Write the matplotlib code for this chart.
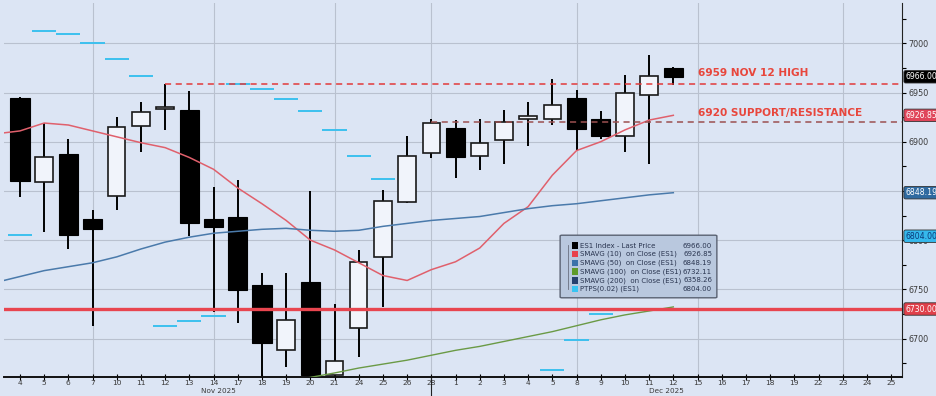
import numpy as np
import matplotlib.pyplot as plt
from matplotlib.patches import FancyBboxPatch, Rectangle
from matplotlib import transforms

# ES1 daily candles, Nov 4 - Dec 12 2025
day_labels = ["4", "5", "6", "7", "10", "11", "12", "13", "14", "17", "18", "19", "20", "21",
              "24", "25", "26", "28",
              "1", "2", "3", "4", "5", "8", "9", "10", "11", "12", "15", "16", "17", "18",
              "19", "22", "23", "24", "25"]
opens = [6944, 6859, 6888, 6821, 6845, 6916, 6933, 6932, 6821, 6824, 6754, 6688, 6757, 6663,
         6711, 6783, 6839, 6889, 6914, 6886, 6902, 6923, 6923, 6944, 6923, 6906, 6947, 6975]
highs = [6945, 6919, 6903, 6831, 6925, 6940, 6959, 6952, 6854, 6861, 6767, 6767, 6850, 6735,
         6790, 6851, 6906, 6923, 6922, 6923, 6932, 6940, 6964, 6953, 6931, 6968, 6988, 6976]
lows = [6844, 6808, 6791, 6713, 6831, 6890, 6912, 6804, 6727, 6716, 6650, 6671, 6650, 6650,
        6681, 6732, 6838, 6883, 6863, 6871, 6877, 6896, 6917, 6892, 6903, 6890, 6877, 6958]
closes = [6860, 6884, 6805, 6811, 6915, 6930, 6935, 6817, 6813, 6749, 6695, 6719, 6663, 6677,
          6778, 6840, 6886, 6919, 6884, 6899, 6920, 6926, 6937, 6913, 6906, 6950, 6967, 6966]

# moving averages, first value is the day before Nov 4
sma10 = [6908, 6911, 6919, 6917, 6911, 6905, 6899, 6894, 6884, 6872, 6853, 6837, 6820, 6800,
         6790, 6777, 6764, 6759, 6770, 6778, 6792, 6817, 6834, 6866, 6891, 6900, 6912, 6922, 6926.85]
sma50 = [6757, 6763, 6769, 6773, 6777, 6783, 6791, 6798, 6803, 6807, 6809, 6811, 6812, 6810,
         6809, 6810, 6814, 6817, 6820, 6822, 6824, 6828, 6832, 6835, 6837, 6840, 6843, 6846, 6848.19]
sma100 = [6656, 6660.5, 6665, 6670, 6674, 6678, 6683, 6688, 6692, 6697, 6702, 6707, 6713,
          6719, 6724, 6728, 6732.11]  # from Nov 19
ptps = [6805, 7013, 7009, 7000.5, 6984, 6967, 6713, 6718, 6723, 6959, 6954, 6943, 6931, 6912,
        6885, 6862, 6625, 6630, 6636, 6643, 6650, 6657, 6668, 6698.5, 6724.5, 6748, 6773, 6804]

nov12_high = 6959
support = 6920
red_level = 6730

y_ticks = [6700, 6750, 6800, 6850, 6900, 6950, 7000]
y_tick_labels = ["6700", "6750", "6800", "", "6900", "6950", "7000"]

legend_names = ["ES1 Index - Last Price", "SMAVG (10)  on Close (ES1)", "SMAVG (50)  on Close (ES1)",
                "SMAVG (100)  on Close (ES1)", "SMAVG (200)  on Close (ES1)", "PTPS(0.02) (ES1)"]
legend_values = ["6966.00", "6926.85", "6848.19", "6732.11", "6358.26", "6804.00"]
legend_colors = ["#000000", "#e8404c", "#3a72aa", "#5e9a2a", "#27406e", "#38c4f2"]

bg = "#dce5f4"
fig = plt.figure(figsize=(9.36, 3.96), dpi=100, facecolor=bg)
ax = fig.add_axes([4 / 936, 19.3 / 396, 898 / 936, 373.7 / 396], facecolor=bg)

n = len(opens)
x = np.arange(n)

# grid
for v in y_ticks:
    ax.axhline(v, color="#b9c1cf", lw=0.8, zorder=0)
for g in [3, 8, 13, 17, 23, 28, 34]:
    ax.axvline(g, color="#b9c1cf", lw=0.8, zorder=0)

# candles
o = np.array(opens)
c = np.array(closes)
up = c >= o
ax.vlines(x, lows, highs, color="black", lw=1.4, zorder=2)
body_h = np.maximum(np.abs(c - o), 1.5)
ax.bar(x[up], body_h[up], bottom=np.minimum(o, c)[up], width=0.72,
       color="#f1f4fb", edgecolor="#1a1a1a", lw=1.2, zorder=3)
ax.bar(x[~up], body_h[~up], bottom=np.minimum(o, c)[~up], width=0.8,
       color="black", edgecolor="black", lw=0.8, zorder=3)

# indicators
ax.plot(np.arange(-1, n), sma10, color="#e0606c", lw=1.1, zorder=4)
ax.plot(np.arange(-1, n), sma50, color="#4a7aab", lw=1.1, zorder=4)
ax.plot(np.arange(n - len(sma100), n), sma100, color="#6a9a45", lw=1.0, zorder=4)
ax.hlines(ptps, x - 0.5, x + 0.5, color="#3cc0ee", lw=1.4, zorder=1)

ax.axhline(red_level, color="#e8454f", lw=2.4, zorder=5)
ax.hlines(nov12_high, 6, 40, color="#e23a3a", lw=1.1, linestyles=(0, (4, 3)), zorder=5)
ax.hlines(support, 17, 40, color="#9c5050", lw=1.1, linestyles=(0, (4, 3)), zorder=5)

ax.text(28.0, 6970, "6959 NOV 12 HIGH", color="#e8463c", fontsize=7.6,
        fontweight="bold", va="center", ha="left", zorder=6)
ax.text(28.0, 6929.5, "6920 SUPPORT/RESISTANCE", color="#e8463c", fontsize=7.6,
        fontweight="bold", va="center", ha="left", zorder=6)

ax.set_xlim(-0.66, 36.45)
ax.set_ylim(6661.2, 7041)

# axes styling
for s in ["left", "top"]:
    ax.spines[s].set_visible(False)
ax.spines["right"].set_color("#222222")
ax.spines["bottom"].set_color("#111111")
ax.spines["bottom"].set_linewidth(1.4)
ax.yaxis.tick_right()
ax.set_yticks(y_ticks)
ax.set_yticklabels(y_tick_labels)
ax.set_yticks(range(6675, 7030, 50), minor=True)
ax.tick_params(axis="y", which="both", direction="out", length=3, width=0.8,
               labelsize=5.8, labelcolor="#3a3a3a", pad=1.5)
ax.set_xticks(np.arange(len(day_labels)))
ax.set_xticklabels(day_labels)
ax.tick_params(axis="x", direction="inout", length=5, width=0.8,
               labelsize=5.4, labelcolor="#3a3a3a", pad=0)

trans = transforms.blended_transform_factory(ax.transData, ax.transAxes)
ax.text(8.2, -0.038, "Nov 2025", transform=trans, fontsize=5.2, color="#3a3a3a",
        ha="center", va="center")
ax.text(26.7, -0.038, "Dec 2025", transform=trans, fontsize=5.2, color="#3a3a3a",
        ha="center", va="center")
ax.plot([17, 17], [0, -0.06], transform=trans, color="#222222", lw=0.8, clip_on=False)

# price tags on the right axis
ytrans = transforms.blended_transform_factory(ax.transAxes, ax.transData)
tags = [(6966.00, "black", "white"), (6926.85, "#e0455a", "white"),
        (6848.19, "#2f6aa0", "white"), (6804.00, "#35b8ec", "#0c3a78"),
        (6730.00, "#e0404a", "white")]
for val, fc, tc in tags:
    ax.text(1.004, val, f"{val:.2f}", transform=ytrans, fontsize=5.6, color=tc,
            ha="left", va="center", zorder=10, clip_on=False,
            bbox=dict(boxstyle="round,pad=0.22", fc=fc, ec="#333333", lw=0.6))

# legend box
lx0, ly0, lw_, lh = 562 / 936, 1 - 297 / 396, 153 / 936, 61 / 396
fig.patches.append(FancyBboxPatch((lx0, ly0), lw_, lh, boxstyle="round,pad=0.002",
                                  transform=fig.transFigure, fc="#b9c8de", ec="#5a6272",
                                  lw=1.0, zorder=20))
for i, (name, val, col) in enumerate(zip(legend_names, legend_values, legend_colors)):
    yy = 1 - (245.5 + i * 8.7) / 396
    fig.patches.append(Rectangle((572 / 936, yy - 3.2 / 396), 6 / 936, 6.4 / 396,
                                 transform=fig.transFigure, fc=col, ec="none", zorder=21))
    fig.text(580 / 936, yy, name, fontsize=5.0, color="#2a3550", va="center", ha="left", zorder=22)
    fig.text(712 / 936, yy, val, fontsize=5.0, color="#2a3550", va="center", ha="right", zorder=22)
fig.lines.append(plt.Line2D([568 / 936, 568 / 936], [1 - 245 / 396, 1 - 289 / 396],
                            transform=fig.transFigure, color="#6a7080", lw=0.6, zorder=21))

fig.savefig("out.png", dpi=100, facecolor=bg)
